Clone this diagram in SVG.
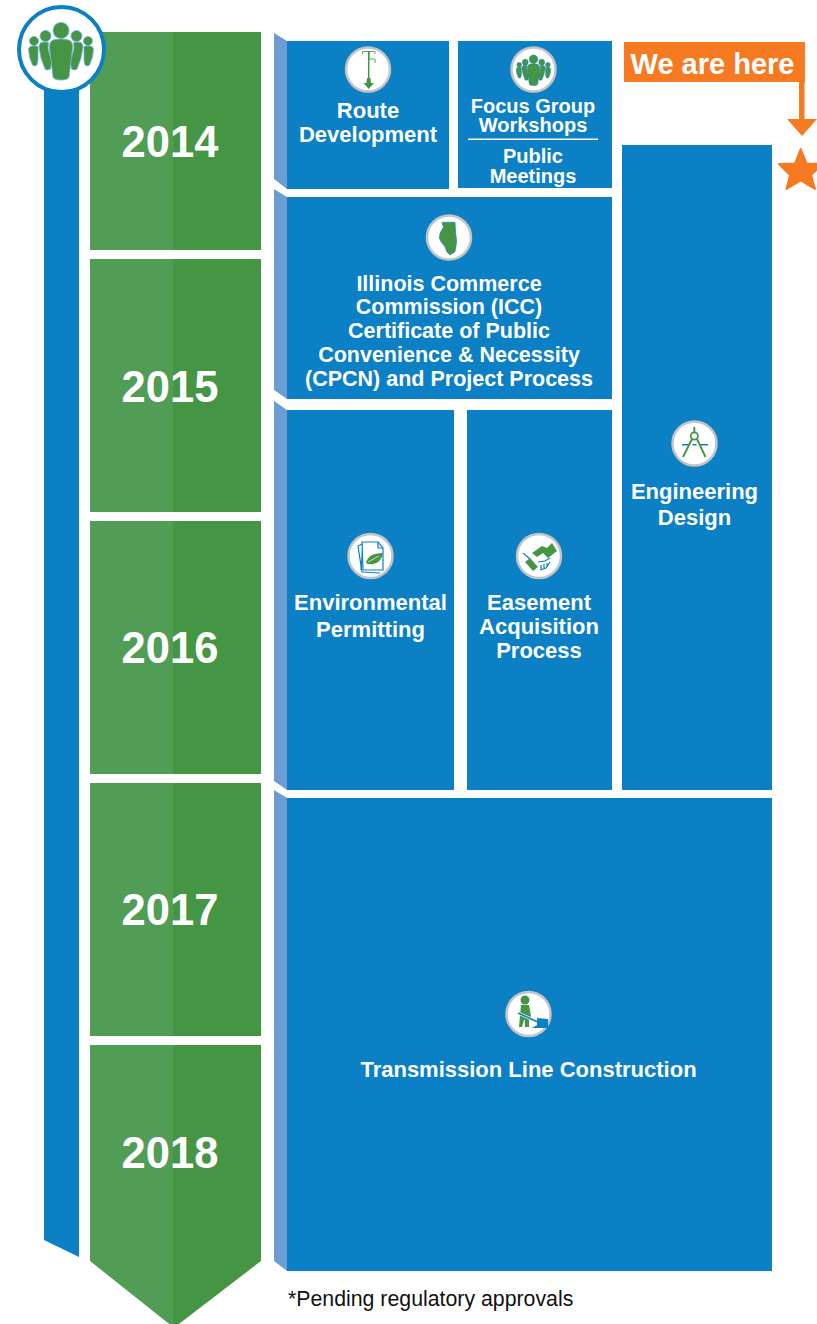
<svg xmlns="http://www.w3.org/2000/svg" width="817" height="1324" viewBox="0 0 817 1324">
<style>
text{font-family:"Liberation Sans",Arial,sans-serif;font-weight:700;fill:#fff;text-anchor:middle}
.year{font-size:43.500px}
.l{font-size:22px}
.i{font-size:21.500px}
.m{font-size:20px}
.b{fill:#0b80c4}
.s{fill:#6b9dd3}
.gl{fill:#529d55}
.gd{fill:#459644}
.ic{fill:#fff;stroke:#c4c4c4;stroke-width:2.5}
.g{fill:#459644}
.gs{fill:none;stroke:#459644;stroke-width:1.6}
.gt{fill:none;stroke:#5aab5c;stroke-width:1}
.bs{fill:none;stroke:#0b80c4;stroke-width:1.2}
.o{fill:#f57a21}
</style>
<defs>
<g id="people">
<circle cx="0" cy="-19.500" r="8"/><path d="M-8-10Q0-12 8-10Q12-8 11.500-2L8 27Q7 30 0 30Q-7 30-8 27L-11.500-2Q-12-8-8-10Z"/>
<circle cx="-15.500" cy="-14" r="5.500"/><path d="M-20-7.500Q-16-8.500-12.500-7.500L-13-2L-9.500 12L-10.500 19Q-14 21-16 19L-20 8L-22-3Q-22-6-20-7.500Z"/>
<circle cx="15.500" cy="-14" r="5.500"/><path d="M20-7.500Q16-8.500 12.500-7.500L13-2L9.500 12L10.500 19Q14 21 16 19L20 8L22-3Q22-6 20-7.500Z"/>
<circle cx="-27" cy="-9" r="4.500"/><path d="M-31-3.500Q-27-5-23-3.500V10L-24 15Q-27 17-28.500 15L-31.500 7L-32.500-1Z"/>
<circle cx="27" cy="-9" r="4.500"/><path d="M31-3.500Q27-5 23-3.500V10L24 15Q27 17 28.500 15L31.500 7L32.500-1Z"/>
</g>
</defs>

<g id="timeline-bar">
<path class="b" d="M44 85H79V1257L44 1240Z"/>
</g>

<g id="year-2014"><rect class="gl" x="90" y="32" width="83" height="218"/><rect class="gd" x="173" y="32" width="88" height="218"/><text class="year" x="170" y="157">2014</text></g>
<g id="year-2015"><rect class="gl" x="90" y="259" width="83" height="253"/><rect class="gd" x="173" y="259" width="88" height="253"/><text class="year" x="170" y="402">2015</text></g>
<g id="year-2016"><rect class="gl" x="90" y="521" width="83" height="253"/><rect class="gd" x="173" y="521" width="88" height="253"/><text class="year" x="170" y="663">2016</text></g>
<g id="year-2017"><rect class="gl" x="90" y="783" width="83" height="253"/><rect class="gd" x="173" y="783" width="88" height="253"/><text class="year" x="170" y="925">2017</text></g>
<g id="year-2018"><path class="gl" d="M90 1045H173V1327L90 1261Z"/><path class="gd" d="M173 1045H261V1261L175 1327H173Z"/><text class="year" x="170" y="1168">2018</text></g>

<g id="people-badge">
<circle cx="61.500" cy="49.500" r="42.500" fill="#fff" stroke="#0b80c4" stroke-width="4"/>
<use href="#people" x="61" y="50" fill="#459644" stroke="#6fb0dc" stroke-width=".8"/>
</g>

<g id="side-bevels">
<path class="s" d="M274 33L287 41V189L274 179Z"/>
<path class="s" d="M274 189L287 197V399L274 390Z"/>
<path class="s" d="M274 401L287 410V790L274 781Z"/>
<path class="s" d="M274 790L287 798V1271L274 1261Z"/>
</g>

<g id="route-development">
<rect class="b" x="287" y="41" width="162" height="148"/>
<circle class="ic" cx="368" cy="69.500" r="22"/>
<path class="gt" d="M362.500 54V51.500H375V54M369 51V59M369 59H375V63"/>
<path d="M368.700 51V79" stroke="#459644" stroke-width="1.500" fill="none"/>
<path class="g" d="M367 78H370.500L371 83H374L368.700 89L363.500 83H366.500Z"/>
<text class="l" x="368" y="118">Route</text>
<text class="l" x="368" y="142">Development</text>
</g>

<g id="focus-public">
<rect class="b" x="458" y="41" width="154" height="147"/>
<circle class="ic" cx="533.500" cy="69.500" r="22"/>
<use href="#people" transform="translate(533.500 69.600) scale(.53)" fill="#459644" stroke="#0b80c4" stroke-width="1"/>
<text class="m" x="533" y="112.500">Focus Group</text>
<text class="m" x="533" y="131.500">Workshops</text>
<rect x="468" y="138.500" width="130" height="1.500" fill="#fff"/>
<text class="m" x="533" y="163">Public</text>
<text class="m" x="533" y="183">Meetings</text>
</g>

<g id="icc">
<rect class="b" x="287" y="197" width="325" height="202"/>
<circle class="ic" cx="449" cy="237.500" r="22"/>
<path class="g" d="M442 222.300H455L455.700 233.300L456.700 241.700L455 251.700L450 255L446.700 251.700L445 246.700L441.700 242.700L439.300 238.300L440 233.300L443.300 227.300Z" stroke="#0b80c4" stroke-width=".6"/>
<text class="i" x="449" y="291">Illinois Commerce</text>
<text class="i" x="449" y="314">Commission (ICC)</text>
<text class="i" x="449" y="338">Certificate of Public</text>
<text class="i" x="449" y="362">Convenience &amp; Necessity</text>
<text class="i" x="449" y="386">(CPCN) and Project Process</text>
</g>

<g id="environmental-permitting">
<rect class="b" x="287" y="410" width="167" height="380"/>
<circle class="ic" cx="370.500" cy="556" r="22"/>
<path class="bs" d="M362 544L358 546L362 572L380 573"/>
<path class="bs" d="M363 543L361 570"/>
<path d="M362 542H378L383 548L383 570H363Z" fill="#fff" stroke="#0b80c4" stroke-width="1.200"/>
<path class="bs" d="M378 542V548H383"/>
<path class="g" d="M366 563Q368 553 383 553Q381 563 373 564Q369 565 366 563Z"/>
<path d="M368 562L379 556" stroke="#fff" stroke-width=".7" fill="none"/>
<text class="l" x="370.500" y="610">Environmental</text>
<text class="l" x="370.500" y="637">Permitting</text>
</g>

<g id="easement-acquisition">
<rect class="b" x="467" y="410" width="145" height="380"/>
<circle class="ic" cx="539" cy="556" r="22"/>
<path class="g" d="M532 553L542 546L547 548L552 543L557 551L548 558L543 553L537 557Z"/>
<path class="g" d="M525 562L530 558L538 567L533 571Z"/>
<path class="bs" d="M523 553L530 559M538 562L545 561L550 558M540 570L546 568L550 562M541 565V570M544 564V569M547 563V567"/>
<text class="l" x="539" y="610">Easement</text>
<text class="l" x="539" y="634">Acquisition</text>
<text class="l" x="539" y="658">Process</text>
</g>

<g id="engineering-design">
<rect class="b" x="622" y="145" width="150" height="645"/>
<circle class="ic" cx="694.500" cy="443.500" r="22"/>
<path d="M682 444.700H689M692.500 444.700H696.500M700 444.700H708" stroke="#0b80c4" stroke-width="1.500" fill="none"/>
<circle cx="694.300" cy="436" r="3.600" fill="none" stroke="#459644" stroke-width="1.800"/>
<path class="gs" style="stroke-width:1.900" d="M694.300 427V432M692 439L683 457M697 439L705.500 457"/>
<text class="l" x="694.500" y="499">Engineering</text>
<text class="l" x="694.500" y="525">Design</text>
</g>

<g id="transmission-line-construction">
<rect class="b" x="287" y="798" width="485" height="473"/>
<circle class="ic" cx="528.500" cy="1014" r="22"/>
<circle cx="525" cy="1000" r="4.500" class="g"/>
<path class="g" d="M521 1005H529L531 1016L529 1019V1027H525V1020H524L522 1027H519L520 1016Z"/>
<path d="M518 1013L540 1023" stroke="#fff" stroke-width="3" fill="none"/>
<path d="M518 1013L540 1023" stroke="#0b80c4" stroke-width="1.600" fill="none"/>
<path class="b" d="M532 1028L537 1025V1018L548 1019V1028Z"/>
<text class="l" x="528.500" y="1077">Transmission Line Construction</text>
</g>

<g id="we-are-here">
<rect class="o" x="624" y="42" width="181" height="40"/>
<text x="712.500" y="74" style="font-size:29px">We are here</text>
<path class="o" d="M799 82H804.500V119H817L802 136L787 119H799Z"/>
<path class="o" d="M800.700 149L806.500 163.500L823 164L811 175L815 189L800.700 180.500L786.500 189L790 175L779 164L795 163.500Z" stroke="#f57a21" stroke-width="2" stroke-linejoin="round"/>
</g>

<text id="footnote" x="288" y="1306" style="font-size:21.300px;font-weight:400;fill:#111;text-anchor:start">*Pending regulatory approvals</text>
</svg>
